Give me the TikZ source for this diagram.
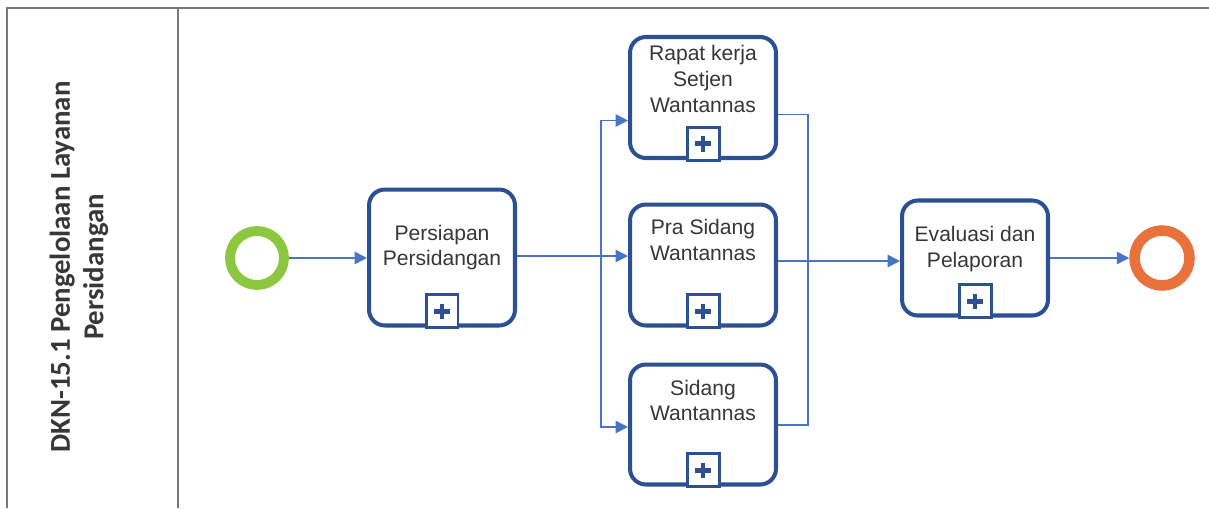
\documentclass[tikz,border=0pt]{standalone}
\usepackage{fontspec}
\setmainfont{Liberation Sans}
\newfontfamily\lanefont{Carlito}
\usetikzlibrary{arrows.meta,positioning,calc}
\definecolor{bpblue}{RGB}{44,80,145}
\definecolor{bpflow}{RGB}{72,116,200}
\definecolor{bpgreen}{RGB}{141,198,63}
\definecolor{bporange}{RGB}{233,113,60}
\definecolor{bpgray}{RGB}{120,120,120}
\definecolor{bptext}{RGB}{55,55,55}

\begin{document}
\begin{tikzpicture}[x=0.02cm,y=-0.02cm,
    >={Triangle[length=7pt,width=7pt]},
    task/.style={draw=bpblue,line width=2.3pt,rounded corners=9pt,fill=white,
                 minimum width=2.92cm,inner sep=0pt},
    tasktext/.style={align=center,text=bptext,
                     font=\fontsize{12}{14.6}\selectfont},
    marker/.style={draw=bpblue,line width=1.7pt,fill=white,inner sep=0pt,
                   minimum width=0.64cm,minimum height=0.66cm,
                   path picture={\draw[bpblue,line width=2.8pt]
                     (path picture bounding box.center) ++(-4.4pt,0) -- ++(8.8pt,0)
                     (path picture bounding box.center) ++(0,-4.4pt) -- ++(0,8.8pt);}},
    startev/.style={circle,draw=bpgreen,line width=5.6pt,minimum size=1.08cm,inner sep=0pt},
    endev/.style={circle,draw=bporange,line width=6pt,minimum size=1.1cm,inner sep=0pt},
    flow/.style={draw=bpflow,line width=0.9pt,->},
    merge/.style={draw=bpflow,line width=0.9pt},
    lane/.style={draw=bpgray,line width=0.6pt}]
  \useasboundingbox (0,0) rectangle (1209,508);

  %% pool and lane
  \draw[lane] (7,508) -- (7,8) -- (1209,8);
  \draw[lane] (178,8) -- (178,508);
  \node[rotate=90,align=center,text=bptext,
        font=\lanefont\bfseries\fontsize{16.4}{19}\selectfont]
        (lanetitle) at (79,267) {DKN-15.1 Pengelolaan Layanan\\Persidangan};

  %% events
  \node[startev] (start) at (257,258) {};
  \node[endev] (end) at (1162,258) {};

  %% sub-processes
  \node[task,minimum height=2.72cm,
        label={[tasktext,yshift=0.2cm]center:Persiapan\\Persidangan}]
        (persiapan) at (442,257.5) {};
  \node[task,minimum height=2.42cm,
        label={[tasktext,yshift=0.37cm]center:Rapat kerja\\Setjen\\Wantannas}]
        (rapat) at (703,97.5) {};
  \node[task,minimum height=2.42cm,
        label={[tasktext,yshift=0.5cm]center:Pra Sidang\\Wantannas}]
        (prasidang) at (703,265) {};
  \node[task,minimum height=2.4cm,
        label={[tasktext,yshift=0.48cm]center:Sidang\\Wantannas}]
        (sidang) at (703,424.5) {};
  \node[task,minimum height=2.3cm,
        label={[tasktext,yshift=0.18cm]center:Evaluasi dan\\Pelaporan}]
        (evaluasi) at (975,258) {};

  %% collapsed markers
  \foreach \t in {persiapan,rapat,prasidang,sidang,evaluasi}
    \node[marker,above=-1.1pt of \t.south] (\t-m) {};

  %% sequence flows
  \coordinate (split) at (601,256);
  \coordinate (join) at (808,261);
  \draw[flow] (start) -- (persiapan.west |- start);
  \draw[flow] (persiapan.east |- split) -- (prasidang.west |- split);
  \draw[flow] (split) |- ($(rapat.west)+(0,23)$);
  \draw[flow] (split) |- ($(sidang.west)+(0,2.5)$);
  \draw[merge] ($(rapat.east)+(0,17)$) -| (join);
  \draw[merge] ($(sidang.east)+(0,0.5)$) -| (join);
  \draw[flow] (prasidang.east |- join) -- (evaluasi.west |- join);
  \draw[flow] (evaluasi.east |- end) -- (end);
\end{tikzpicture}
\end{document}
